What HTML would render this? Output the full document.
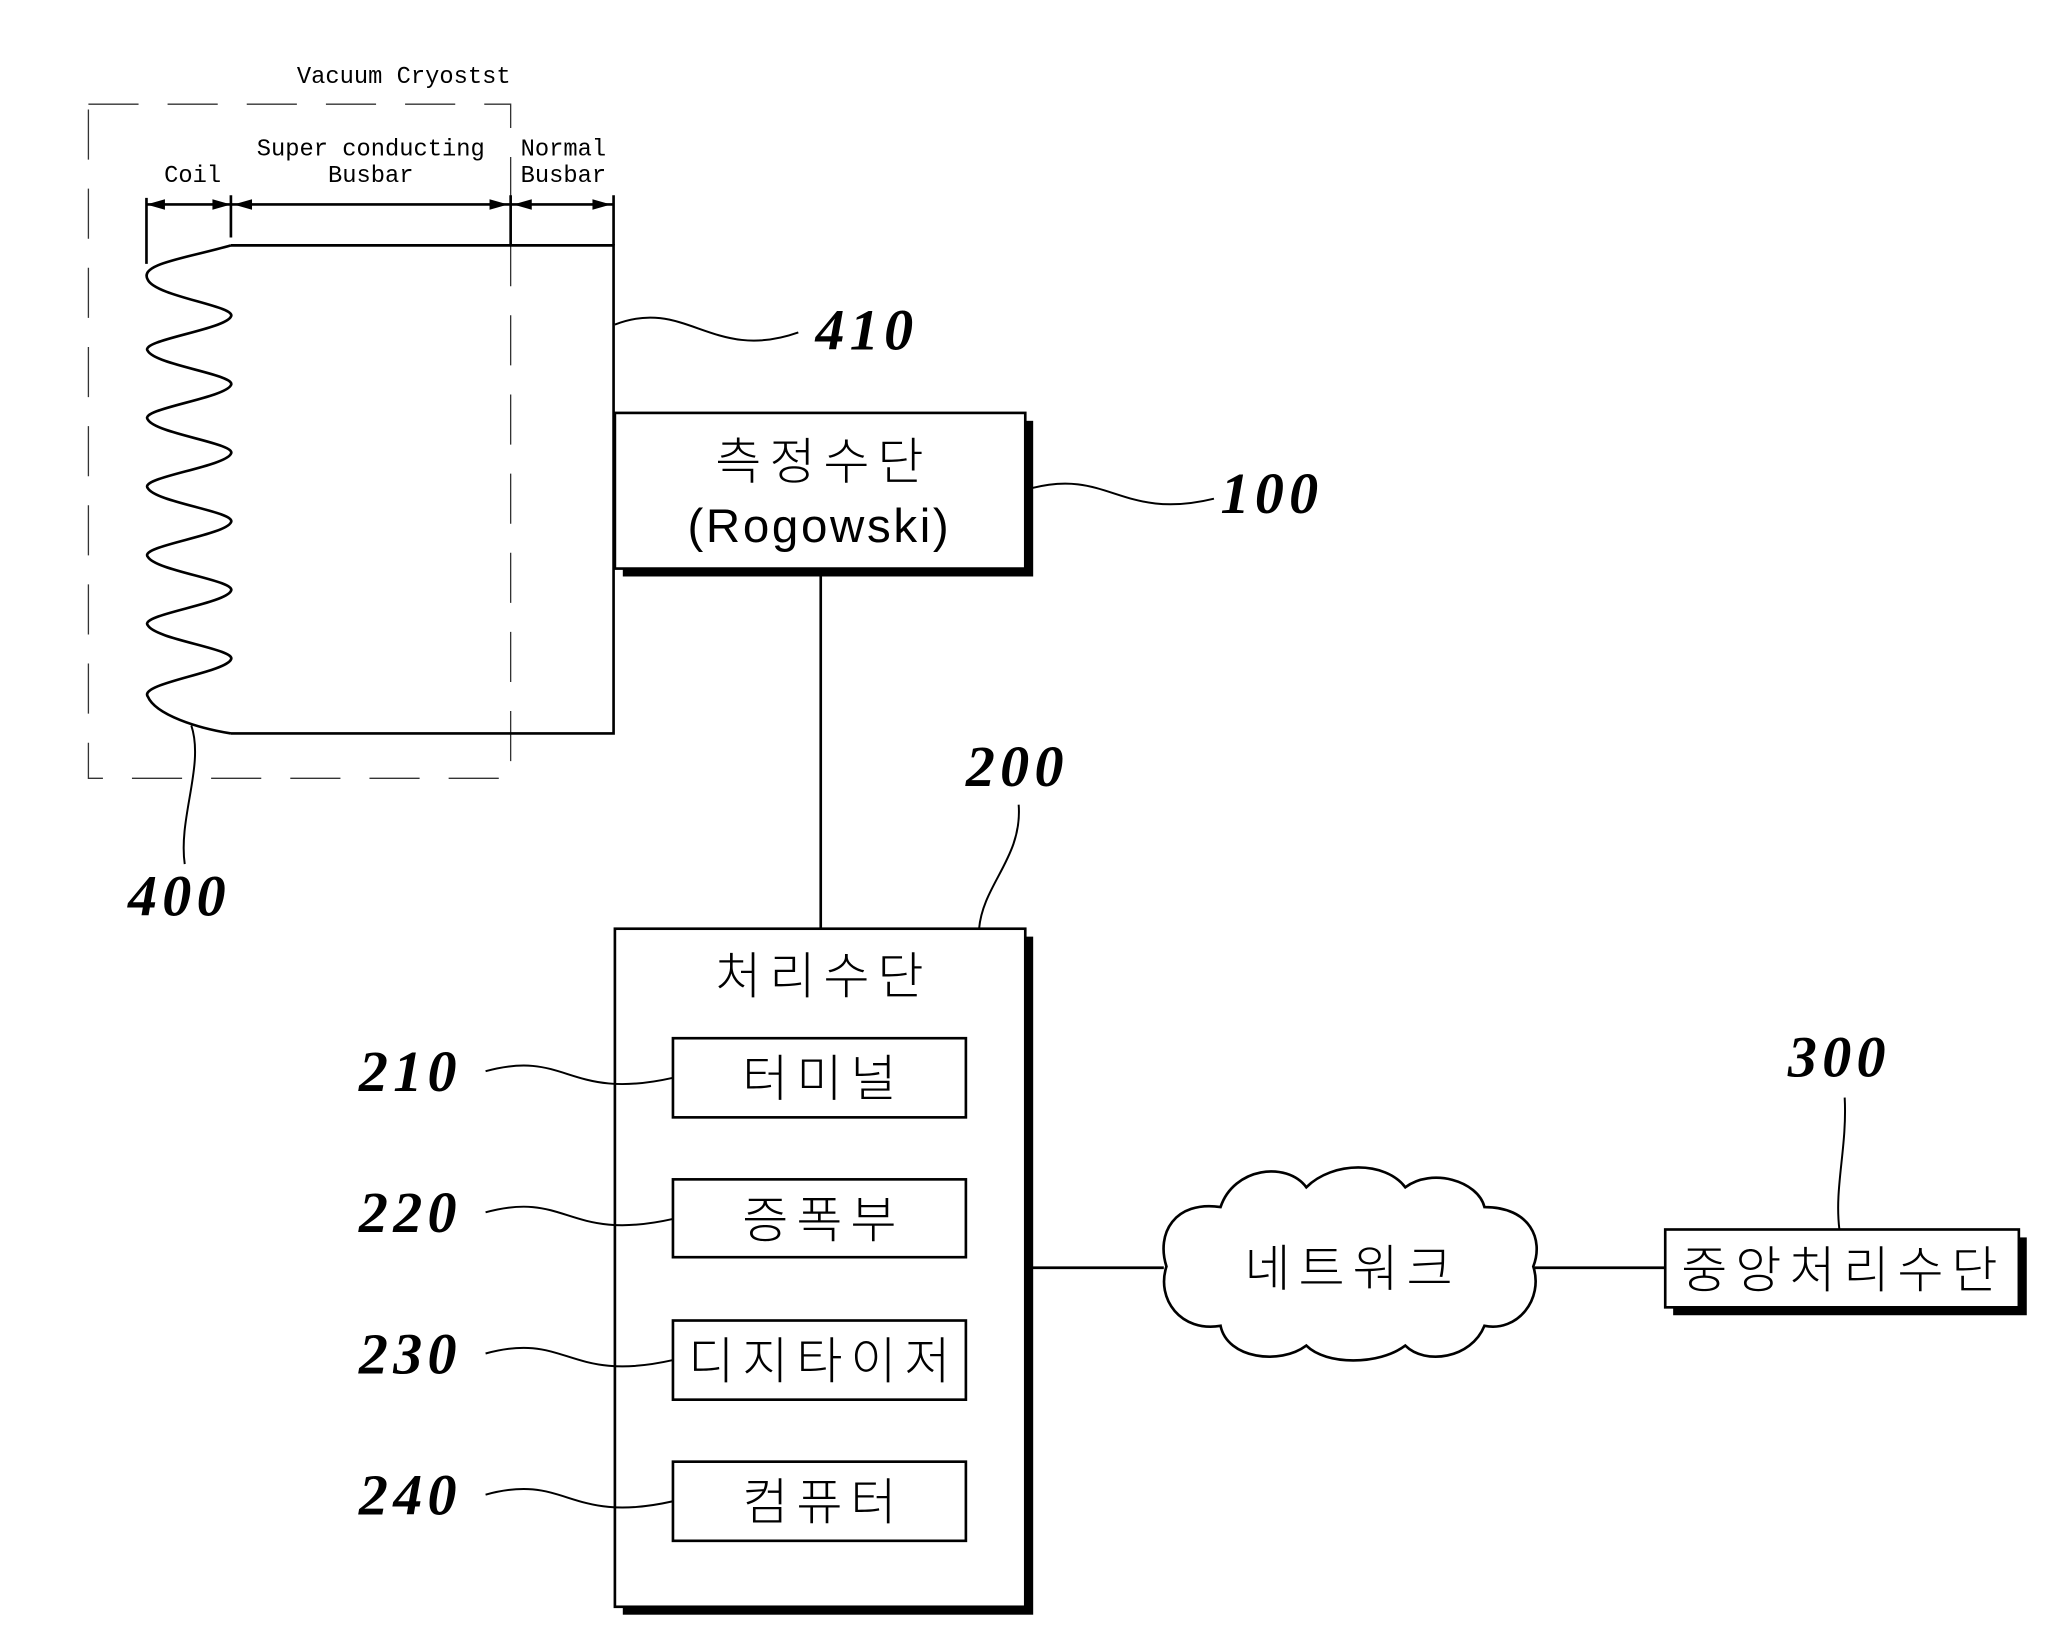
<!DOCTYPE html>
<html><head><meta charset="utf-8"><style>
html,body{margin:0;padding:0;background:#fff}
svg{display:block}
.k{font-family:"Noto Sans CJK KR","NanumGothic",sans-serif;font-weight:300;letter-spacing:6px}
.n{font-family:"Liberation Serif",serif;font-style:italic;font-weight:bold;font-size:44px;letter-spacing:4px}
.s{font-family:"Liberation Mono",monospace;font-size:18px}
</style></head><body>
<svg width="2069" height="1649" viewBox="0 0 1568 1250" preserveAspectRatio="none" xmlns="http://www.w3.org/2000/svg">
<g fill="none" stroke="#000">
<rect x="67" y="79" width="320" height="511" stroke-width="1" stroke-dasharray="38,22" stroke="#333"/>
<path d="M175,186 C140,196 105,200 112,212 C118,225 180,232 175,240 C170,250 105,258 112,266 C118,277 180,284 175,292 C170,302 105,310 112,318 C118,329 180,336 175,344 C170,354 105,362 112,370 C118,381 180,388 175,396 C170,406 105,414 112,422 C118,433 180,440 175,448 C170,458 105,466 112,474 C118,485 180,492 175,500 C170,510 105,518 112,528 C118,542 150,552 175,556" stroke-width="2"/>
<path d="M175,186 H465 V556 H175" stroke-width="2"/>
<path d="M111,150 V200 M175,148 V180 M387,148 V186 M465,148 V186 M111,155 H465" stroke-width="2"/>
</g>
<g fill="#000">
<path d="M111,155 l14,-4 v8z M175,155 l-14,-4 v8z M177,155 l14,-4 v8z M385,155 l-14,-4 v8z M389,155 l14,-4 v8z M463,155 l-14,-4 v8z"/>
</g>
<text class="s" x="306" y="63" text-anchor="middle">Vacuum Cryostst</text>
<text class="s" x="146" y="138" text-anchor="middle">Coil</text>
<text class="s" x="281" y="118" text-anchor="middle">Super conducting</text>
<text class="s" x="281" y="138" text-anchor="middle">Busbar</text>
<text class="s" x="427" y="118" text-anchor="middle">Normal</text>
<text class="s" x="427" y="138" text-anchor="middle">Busbar</text>
<g fill="#000">
<rect x="472" y="319" width="311" height="118"/>
<rect x="472" y="710" width="311" height="514"/>
<rect x="1268" y="938" width="268" height="59"/>
</g>
<g fill="#fff" stroke="#000" stroke-width="2">
<rect x="466" y="313" width="311" height="118"/>
<rect x="466" y="704" width="311" height="514"/>
<rect x="1262" y="932" width="268" height="59"/>
<rect x="510" y="787" width="222" height="60"/>
<rect x="510" y="894" width="222" height="59"/>
<rect x="510" y="1001" width="222" height="60"/>
<rect x="510" y="1108" width="222" height="60"/>
</g>
<g fill="none" stroke="#000" stroke-width="2">
<path d="M622,431 V704 M777,961 H882 M1163,961 H1262"/>
<path d="M884,960 C876,935 890,910 925,915 C935,885 975,880 990,900 C1010,880 1050,880 1065,900 C1085,885 1120,895 1125,915 C1160,915 1170,940 1162,960 C1170,985 1150,1010 1125,1005 C1115,1030 1080,1035 1065,1020 C1045,1035 1005,1035 990,1020 C970,1035 930,1030 925,1005 C895,1010 876,985 884,960 Z"/>
</g>
<g fill="none" stroke="#000" stroke-width="1.5">
<path d="M466,246 C520,225 540,275 605,252"/>
<path d="M782,370 C840,355 850,395 920,378"/>
<path d="M145,550 C155,580 135,620 140,655"/>
<path d="M772,610 C775,650 745,670 742,704"/>
<path d="M368,812 C430,795 430,835 510,817"/>
<path d="M368,919 C430,902 430,942 510,924"/>
<path d="M368,1026 C430,1009 430,1049 510,1031"/>
<path d="M368,1133 C430,1116 430,1156 510,1138"/>
<path d="M1398,832 C1400,870 1390,900 1394,932"/>
</g>
<g class="n">
<text x="618" y="265">410</text>
<text x="925" y="389">100</text>
<text x="97" y="694">400</text>
<text x="732" y="596">200</text>
<text x="272" y="827">210</text>
<text x="272" y="934">220</text>
<text x="272" y="1041">230</text>
<text x="272" y="1148">240</text>
<text x="1355" y="816">300</text>
</g>
<g class="k" font-size="38" text-anchor="middle">
<text x="624" y="363">측정수단</text>
<text x="621" y="411" font-family="Liberation Sans" font-size="36" style="letter-spacing:2px">(Rogowski)</text>
<text x="624" y="753">처리수단</text>
<text x="624" y="831">터미널</text>
<text x="624" y="938">증폭부</text>
<text x="624" y="1045">디지타이저</text>
<text x="624" y="1152">컴퓨터</text>
<text x="1025" y="975">네트워크</text>
<text x="1397" y="976">중앙처리수단</text>
</g>
</svg>
</body></html>
